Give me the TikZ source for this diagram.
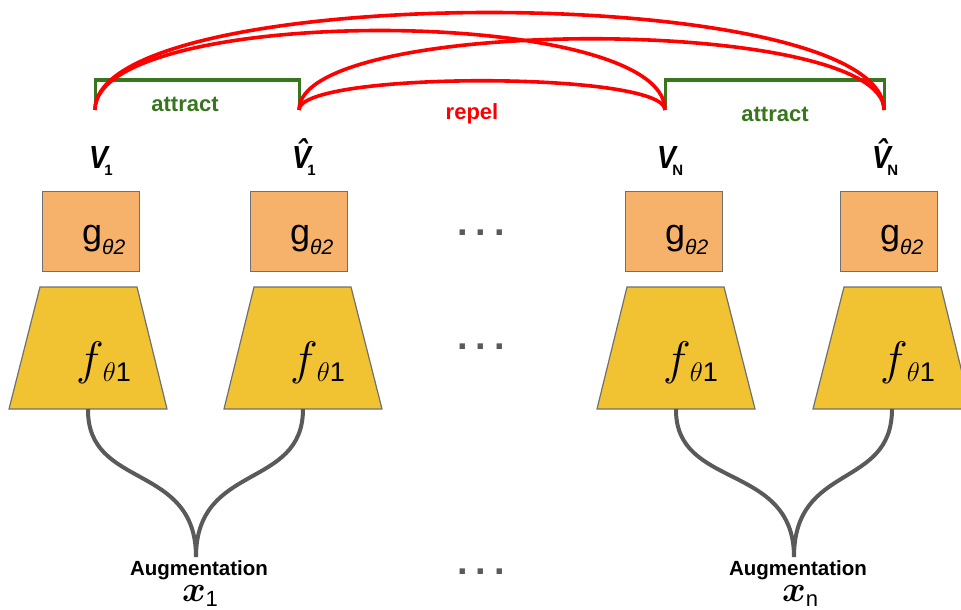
\RequirePackage{fix-cm}
\documentclass[tikz,border=0pt]{standalone}
\usepackage{fontspec}
\usepackage{graphicx}
\usepackage{bm}
\setmainfont{Liberation Sans}
\definecolor{gfill}{HTML}{F6B26B}
\definecolor{yfill}{HTML}{F1C232}
\definecolor{grn}{HTML}{38761D}
\definecolor{edgec}{HTML}{707070}
\definecolor{wirec}{HTML}{5A5A5A}
\definecolor{redc}{HTML}{FF0000}
\newcommand\fs[1]{\fontsize{#1}{#1}\selectfont}
\newcommand\glab{{\fs{36}g}\raisebox{-10pt}{\fs{21}\itshape θ2}}
\newcommand\flab{{\fs{47}$f$}\kern-1pt\raisebox{-7pt}{\fs{27}$\theta$1}}
\newcommand\vsym{\scalebox{0.88}[1]{\fs{32}\bfseries\itshape V}}
\newcommand\vhsym{\scalebox{0.88}[1]{\fs{32}\bfseries\itshape \^{V}}}
\newcommand\vlab[1]{\vsym\kern-3.5pt\raisebox{-7pt}{\fs{15}\bfseries #1}}
\newcommand\vhlab[1]{\vhsym\kern-3.5pt\raisebox{-7pt}{\fs{15}\bfseries #1}}
\newcommand\dotsrow{{\fs{38}\bfseries .\hspace{8pt}.\hspace{8pt}.}}
\begin{document}
\begin{tikzpicture}[x=1pt,y=-1pt,
  gboxst/.style={draw=edgec, line width=1.2pt, fill=gfill, minimum width=97pt, minimum height=80pt, anchor=north west, inner sep=0pt},
  trapst/.style={draw=edgec, line width=1.2pt, fill=yfill},
  lab/.style={anchor=base west, inner sep=0pt},
  repelst/.style={draw=redc, line width=3.6pt},
  attractst/.style={draw=grn, line width=3pt},
  wirest/.style={draw=wirec, line width=4pt},
  dotst/.style={anchor=base, inner sep=0pt, text=wirec}]
\useasboundingbox (0,0) rectangle (961,610);

% columns: boxes, trapezoids
\foreach \i/\bl/\tl/\bot in {1/42/40/9, 2/250/254/224, 3/625/627/597, 4/840/844/813}{
  \node[gboxst] (g\i) at (\bl,191) {};
  \node[lab] (gt\i) at (\bl+40,244) {\glab};
  \coordinate (ta\i) at (\tl,287);
  \coordinate (tb\i) at (\tl+97,287);
  \coordinate (tc\i) at (\bot+158,409);
  \coordinate (td\i) at (\bot,409);
  \filldraw[trapst] (ta\i) -- (tb\i) -- (tc\i) -- (td\i) -- cycle;
  \node[lab] (ft\i) at (\tl+36,374) {\flab};
  \coordinate (out\i) at (\bot+79,409);
}

% V labels
\node[lab] (v1) at (89,168) {\vlab{1}};
\node[lab] (v1h) at (292,168) {\vhlab{1}};
\node[lab] (vn) at (657,168) {\vlab{N}};
\node[lab] (vnh) at (872,168) {\vhlab{N}};

% end points of brackets and arcs
\coordinate (p1) at (95,110);
\coordinate (p1h) at (299,110);
\coordinate (pn) at (665,110);
\coordinate (pnh) at (884,110);

% attract brackets
\draw[attractst] (p1) ++(0,-2) |- (299,80) -- (p1h);
\draw[attractst] (pn) ++(0,-2) |- (884,80) -- (pnh);
\node[text=grn, font=\fs{22}\bfseries] (att1) at (185,104) {attract};
\node[text=grn, font=\fs{22}\bfseries] (att2) at (775,114) {attract};

% repel arcs
\draw[repelst] (p1) .. controls (95,-20) and (884,-20) .. (pnh);
\draw[repelst] (p1) .. controls (95,4) and (665,4) .. (pn);
\draw[repelst] (p1h) .. controls (299,15) and (884,15) .. (pnh);
\draw[repelst] (p1h) .. controls (299,71) and (665,71) .. (pn);
\node[text=redc, font=\fs{22}\bfseries] (rep) at (472,114) {repel};

% augmentation
\node (aug1) at (199,570) {\fs{20.5}\bfseries Augmentation};
\node (augn) at (798,570) {\fs{20.5}\bfseries Augmentation};
\node[anchor=base, inner sep=0pt] (x1) at (200,601) {{\fs{36}$\bm{x}$}\raisebox{-5pt}{\fs{22}1}};
\node[anchor=base, inner sep=0pt] (xn) at (800,601) {{\fs{36}$\bm{x}$}\raisebox{-5pt}{\fs{22}n}};
\coordinate (m1) at (196,557);
\coordinate (mn) at (794,557);

% wires
\draw[wirest] (out1) .. controls (87,490) and (196,462) .. (m1);
\draw[wirest] (out2) .. controls (303,490) and (196,462) .. (m1);
\draw[wirest] (out3) .. controls (675,490) and (794,462) .. (mn);
\draw[wirest] (out4) .. controls (892,490) and (794,462) .. (mn);

% dots
\node[dotst] (dA) at (481,235) {\dotsrow};
\node[dotst] (dB) at (481,349) {\dotsrow};
\node[dotst] (dC) at (481,574) {\dotsrow};
\end{tikzpicture}
\end{document}
